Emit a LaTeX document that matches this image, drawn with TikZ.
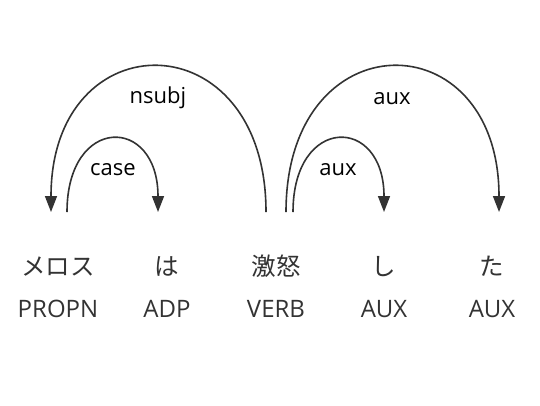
\documentclass[tikz,border=0pt]{standalone}
\usepackage{fontspec}
\setmainfont{Open Sans}
\newfontfamily\jpfont{Noto Sans CJK JP}
\usepackage{xcolor}
\usepackage{tikz}
\usetikzlibrary{positioning, arrows.meta}
\definecolor{ink}{HTML}{333333}
\tikzstyle{word} = [anchor=base, 
inner sep=0pt, 
text=ink, 
font=\jpfont\fontsize{24.5bp}{28bp}\selectfont]
\tikzstyle{tag} = [anchor=base, 
inner sep=0pt, 
text=ink, 
font=\fontsize{24bp}{28bp}\selectfont]
\tikzstyle{deplabel} = [inner sep=0pt, 
text=black, 
font=\fontsize{22bp}{26bp}\selectfont]
\tikzstyle{arc} = [draw=ink, line width=1.6bp, -{Triangle[length=16bp,width=12bp]}]

\begin{document}
\begin{tikzpicture}[x=1bp, y=-1bp]
\useasboundingbox (0,0) rectangle (540,405);

% Nodes
\node (merosu) [word] at (58,275) {メロス};
\node (wa) [word] at ([xshift=109bp]merosu.base) {は};
\node (gekido) [word] at ([xshift=109bp]wa.base) {激怒};
\node (shi) [word] at ([xshift=108bp]gekido.base) {し};
\node (ta) [word] at ([xshift=108bp]shi.base) {た};

\node (propn) [tag] at ([yshift=-42bp]merosu.base) {PROPN};
\node (adp) [tag] at ([yshift=-42bp]wa.base) {ADP};
\node (verb) [tag] at ([yshift=-42bp]gekido.base) {VERB};
\node (auxshi) [tag] at ([yshift=-42bp]shi.base) {AUX};
\node (auxta) [tag] at ([yshift=-42bp]ta.base) {AUX};

% arc feet
\coordinate (caseS) at ([xshift=9bp,yshift=63bp]merosu.base);
\coordinate (caseE) at ([xshift=-9bp,yshift=63bp]wa.base);
\coordinate (nsubjS) at ([xshift=-10bp,yshift=63bp]gekido.base);
\coordinate (nsubjE) at ([xshift=-7bp,yshift=63bp]merosu.base);
\coordinate (auxS) at ([xshift=17bp,yshift=63bp]gekido.base);
\coordinate (auxE) at ([yshift=63bp]shi.base);
\coordinate (auxtaS) at ([xshift=10bp,yshift=63bp]gekido.base);
\coordinate (auxtaE) at ([xshift=7bp,yshift=63bp]ta.base);

% Arrows
\draw [arc] (caseS) .. controls +(0,-97) and +(0,-97) .. (caseE);
\draw [arc] (nsubjS) .. controls +(0,-193) and +(0,-193) .. (nsubjE);
\draw [arc] (auxS) .. controls +(0,-97) and +(0,-97) .. (auxE);
\draw [arc] (auxtaS) .. controls +(0,-193) and +(0,-193) .. (auxtaE);

\node (caselbl) [deplabel] at (113,170) {case};
\node (nsubjlbl) [deplabel] at (158,98) {nsubj};
\node (auxlbl) [deplabel] at (338,170) {aux};
\node (auxtalbl) [deplabel] at (392,99) {aux};

\end{tikzpicture}
\end{document}
